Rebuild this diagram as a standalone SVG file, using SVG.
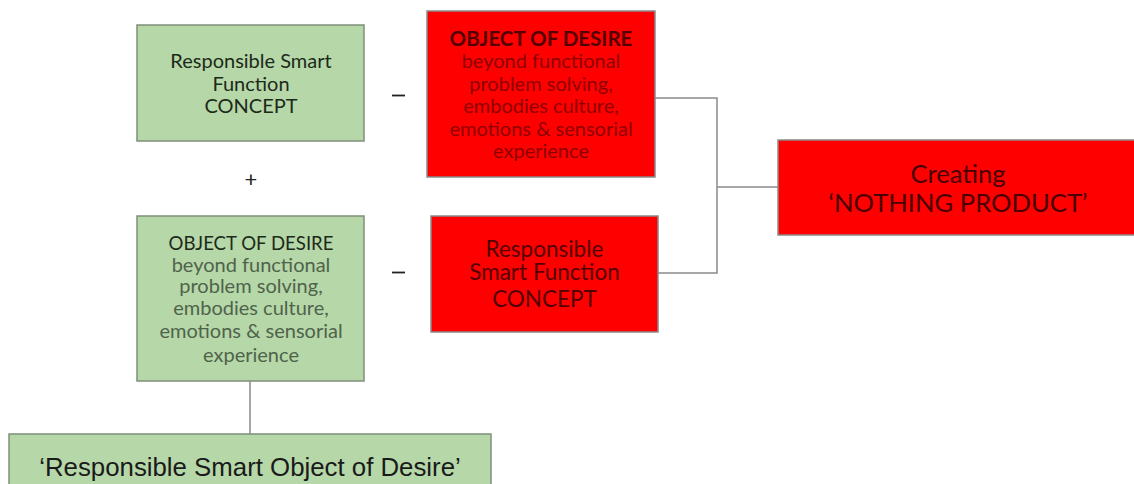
<svg xmlns="http://www.w3.org/2000/svg" width="1134" height="484" viewBox="0 0 1134 484">
  <style>
    .green { fill: #b6d7a8; stroke: #7f8f7a; stroke-width: 1.5; }
    .red { fill: #ff0000; stroke: #8a8a8a; stroke-width: 1.5; }
    text { font-family: Lato, "Liberation Sans", sans-serif; text-anchor: middle; }
    text.arial { font-family: "Liberation Sans", Arial, sans-serif; }
    .gh { fill: #1c2a1a; }
    .gs { fill: #4f634b; }
    .rh { fill: #550000; }
    .rs { fill: #8e0000; }
    .body { font-size: 20px; }
    .op { font-size: 22px; fill: #222; }
    .wire { fill: none; stroke: #8a8a8a; stroke-width: 1.5; }
  </style>
  <rect width="1134" height="484" fill="#ffffff"/>

  <g id="connectors">
    <polyline class="wire" points="655,98 717,98 717,273 658,273"/>
    <line class="wire" x1="717" y1="187" x2="778" y2="187"/>
    <line class="wire" x1="250" y1="381" x2="250" y2="434"/>
  </g>

  <g id="green-function">
    <rect class="green" x="137" y="25" width="227" height="116"/>
    <text class="gh body" x="251" y="68">Responsible Smart</text>
    <text class="gh body" x="251" y="91">Function</text>
    <text class="gh body" x="251" y="113">CONCEPT</text>
  </g>

  <g id="red-desire">
    <rect class="red" x="427" y="11" width="228" height="166"/>
    <text class="rh" x="541" y="46" font-size="20.5" font-weight="bold">OBJECT OF DESIRE</text>
    <text class="rs body" x="541" y="68">beyond functional</text>
    <text class="rs body" x="541" y="91">problem solving,</text>
    <text class="rs body" x="541" y="113">embodies culture,</text>
    <text class="rs body" x="541" y="136">emotions &amp; sensorial</text>
    <text class="rs body" x="541" y="158">experience</text>
  </g>

  <g id="green-desire">
    <rect class="green" x="137" y="216" width="227" height="165"/>
    <text class="gh" x="251" y="250" font-size="18.6">OBJECT OF DESIRE</text>
    <text class="gs body" x="251" y="272">beyond functional</text>
    <text class="gs body" x="251" y="293">problem solving,</text>
    <text class="gs body" x="251" y="315">embodies culture,</text>
    <text class="gs body" x="251" y="338">emotions &amp; sensorial</text>
    <text class="gs body" x="251" y="362">experience</text>
  </g>

  <g id="red-function">
    <rect class="red" x="431" y="216" width="227" height="116"/>
    <text class="rh" x="544.5" y="257" font-size="22.5">Responsible</text>
    <text class="rh" x="544.5" y="280" font-size="22.5">Smart Function</text>
    <text class="rh" x="544.5" y="307" font-size="22.5">CONCEPT</text>
  </g>

  <g id="nothing-product">
    <rect class="red" x="778" y="140" width="360" height="95"/>
    <text x="958" y="183" font-size="25.6" fill="#480000">Creating</text>
    <text x="958" y="212" font-size="25.6" fill="#480000">‘NOTHING PRODUCT’</text>
  </g>

  <g id="smart-object">
    <rect class="green" x="9" y="434" width="482" height="60"/>
    <text class="arial" x="250" y="476" font-size="25.8" fill="#1a1a1a">‘Responsible Smart Object of Desire’</text>
  </g>

  <g id="operators">
    <line x1="392" y1="95.5" x2="405" y2="95.5" stroke="#222" stroke-width="1.8"/>
    <text class="op" x="251" y="187">+</text>
    <line x1="392" y1="272.5" x2="405" y2="272.5" stroke="#222" stroke-width="1.8"/>
  </g>
</svg>
